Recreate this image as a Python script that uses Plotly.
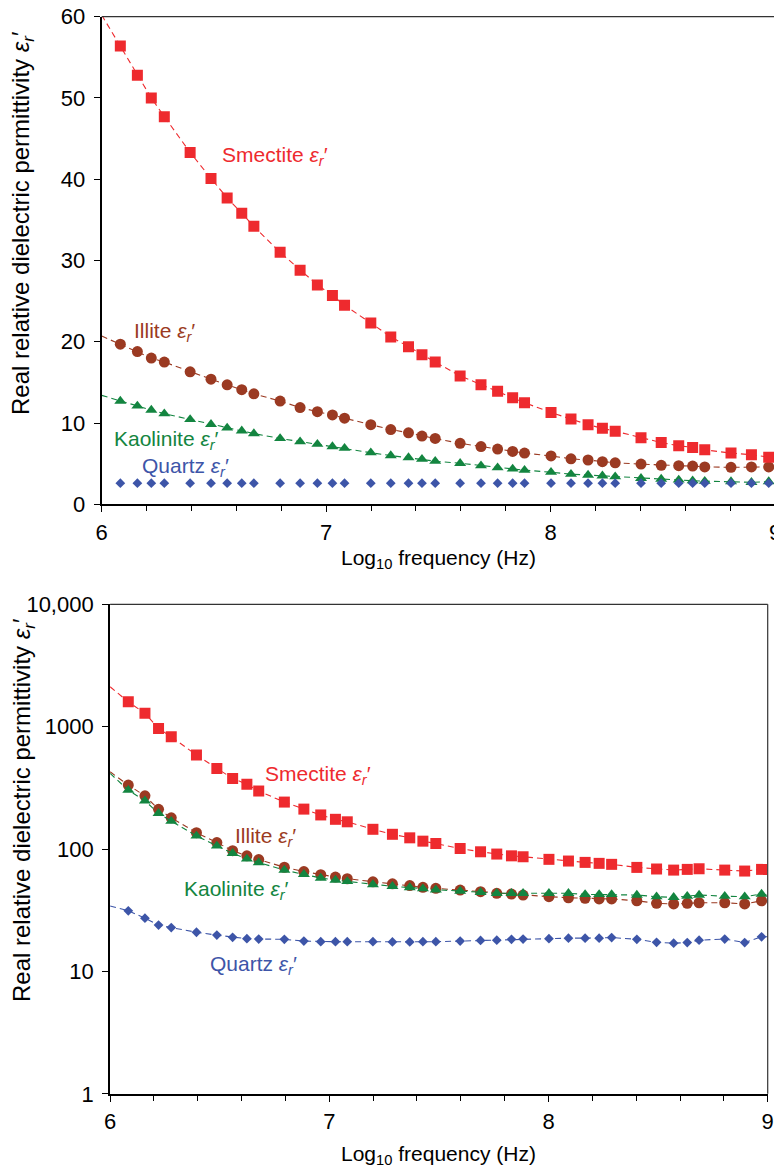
import math
import plotly.graph_objects as go

# ---------------- data ----------------
log_freq = [6.083, 6.159, 6.221, 6.279, 6.394, 6.487, 6.559, 6.624, 6.678, 6.795,
            6.884, 6.961, 7.028, 7.082, 7.199, 7.288, 7.367, 7.427, 7.486, 7.597,
            7.690, 7.764, 7.831, 7.884, 8.002, 8.091, 8.167, 8.231, 8.288, 8.403,
            8.493, 8.571, 8.633, 8.687, 8.804, 8.895, 8.972]

# top panel (linear)
smectite_lin = [56.4, 52.8, 50.0, 47.7, 43.3, 40.1, 37.7, 35.8, 34.2, 31.0,
                28.8, 27.0, 25.7, 24.5, 22.3, 20.6, 19.4, 18.4, 17.5, 15.8,
                14.7, 13.9, 13.1, 12.5, 11.3, 10.5, 9.8, 9.35, 9.0, 8.2,
                7.6, 7.2, 7.0, 6.7, 6.3, 6.1, 5.8]
illite_lin = [19.7, 18.8, 18.0, 17.5, 16.3, 15.4, 14.7, 14.1, 13.6, 12.7,
              11.9, 11.4, 11.0, 10.6, 9.8, 9.2, 8.8, 8.4, 8.1, 7.5,
              7.1, 6.8, 6.5, 6.3, 5.95, 5.6, 5.45, 5.25, 5.1, 4.95,
              4.8, 4.75, 4.7, 4.6, 4.55, 4.6, 4.6]
kaolinite_lin = [12.7, 12.1, 11.6, 11.15, 10.45, 9.85, 9.4, 9.05, 8.7, 8.1,
                 7.7, 7.4, 7.1, 6.9, 6.35, 6.0, 5.75, 5.55, 5.3, 5.05,
                 4.75, 4.5, 4.35, 4.2, 3.95, 3.7, 3.6, 3.5, 3.4, 3.2,
                 3.1, 3.0, 2.9, 2.85, 2.8, 2.7, 2.8]
quartz_lin = [2.6, 2.6, 2.6, 2.6, 2.6, 2.6, 2.6, 2.6, 2.6, 2.6,
              2.6, 2.6, 2.6, 2.6, 2.6, 2.6, 2.6, 2.6, 2.6, 2.6,
              2.6, 2.6, 2.6, 2.6, 2.6, 2.6, 2.6, 2.6, 2.6, 2.6,
              2.6, 2.6, 2.6, 2.6, 2.6, 2.6, 2.6]
# dashed trend-line values at the axis ends (log f = 6 and 9)
trend_ends_x = [6.0, 9.0]
smectite_lin_ends = [60.2, 5.5]
illite_lin_ends = [20.7, 4.6]
kaolinite_lin_ends = [13.4, 2.7]

# bottom panel (log)
smectite_log = [1597, 1285, 968, 827, 586, 456, 378, 338, 298, 242,
                212, 190, 175, 167, 145, 132, 123.5, 116, 111, 101,
                95, 91, 88, 86.5, 82.4, 79.8, 77.8, 76.4, 75, 70.8,
                68.7, 67.3, 68.2, 69, 67.3, 66.1, 68.2]
illite_log = [333, 272, 211, 180, 136, 113, 97, 88, 82, 71,
              65.5, 61.7, 59, 57.2, 54, 52, 50.3, 48.7, 47.8, 46.2,
              44.8, 43.5, 42.9, 42.1, 40.8, 40.0, 39.6, 39.1, 39.1, 37.8,
              36.0, 35.6, 36.0, 36.4, 36.4, 35.6, 37.8]
kaolinite_log = [303, 248, 196, 169, 128, 106, 92.3, 83, 77.5, 67.3,
                 62.1, 58, 55.8, 54.4, 51.3, 49.6, 48.5, 47.4, 46.5, 45.4,
                 44.3, 43.5, 43.5, 43.5, 43.5, 43.5, 42.6, 42.6, 42.6, 42.1,
                 40.8, 40.3, 41.2, 42.1, 41.2, 40.8, 42.9]
quartz_log = [31.3, 27.2, 23.9, 22.8, 20.9, 19.8, 19.0, 18.5, 18.4, 18.3,
              17.7, 17.5, 17.5, 17.5, 17.5, 17.4, 17.4, 17.5, 17.5, 17.7,
              17.9, 18.0, 18.3, 18.4, 18.5, 18.7, 18.7, 18.7, 18.9, 18.3,
              17.3, 17.0, 17.2, 18.0, 18.4, 17.2, 19.2]
smectite_log_ends = [2118, 66.5]
illite_log_ends = [428, 36.9]
kaolinite_log_ends = [415, 42]
quartz_log_ends = [34.2, 19.2]

x_ticks = [6, 7, 8, 9]
y_ticks_top = [0, 10, 20, 30, 40, 50, 60]
y_ticks_bot = [1, 10, 100, 1000, 10000]
y_ticktext_bot = ["1", "10", "100", "1000", "10,000"]

# ---------------- style ----------------
RED = "#EE2A2E"
BROWN = "#9B3A22"
GREEN = "#138540"
BLUE = "#3D55A8"
FONT = "Liberation Sans, Arial, sans-serif"
FS_TICK = 22
FS_LABEL = 21
FS_XTITLE = 21
FS_YTITLE = 24

fig = go.Figure()


def add_series(xa, ya, vals, ends, color, symbol, size):
    if ends is not None:
        fig.add_trace(go.Scatter(
            x=[trend_ends_x[0]] + log_freq + [trend_ends_x[1]],
            y=[ends[0]] + vals + [ends[1]],
            mode="lines", line=dict(color=color, width=1.1, dash="6px,4px"),
            xaxis=xa, yaxis=ya, showlegend=False, hoverinfo="skip"))
    fig.add_trace(go.Scatter(
        x=log_freq, y=vals, mode="markers",
        marker=dict(color=color, symbol=symbol, size=size, line=dict(width=0)),
        xaxis=xa, yaxis=ya, showlegend=False))


# top panel
add_series("x", "y", kaolinite_lin, kaolinite_lin_ends, GREEN, "triangle-up", 10.5)
add_series("x", "y", illite_lin, illite_lin_ends, BROWN, "circle", 11)
add_series("x", "y", smectite_lin, smectite_lin_ends, RED, "square", 11)
add_series("x", "y", quartz_lin, None, BLUE, "diamond", 7.5)

# bottom panel
add_series("x2", "y2", quartz_log, quartz_log_ends, BLUE, "diamond", 7.5)
add_series("x2", "y2", illite_log, illite_log_ends, BROWN, "circle", 11)
add_series("x2", "y2", kaolinite_log, kaolinite_log_ends, GREEN, "triangle-up", 10.5)
add_series("x2", "y2", smectite_log, smectite_log_ends, RED, "square", 11)

# page body has an 8px margin: figure is placed at (8, 8) in the window
OFF = 8
W, H = 782 - OFF, 1169 - OFF


def px_x(p):
    return (p - OFF) / W


def px_y(p):
    return 1 - (p - OFF) / H


xaxis_common = dict(
    range=[6, 9], tickvals=x_ticks, ticks="outside", ticklen=6, tickwidth=1.3,
    tickcolor="black", showline=True, linecolor="black", linewidth=2,
    showgrid=False, zeroline=False, tickfont=dict(size=FS_TICK, color="black"),
    minor=dict(tick0=6, dtick=0.2, ticks="outside", ticklen=5, tickwidth=1.1,
               tickcolor="black", showgrid=False),
    automargin=False, ticklabelstandoff=1, ticklabeloverflow="allow",
)
yaxis_common = dict(
    ticks="outside", ticklen=6, tickwidth=1.3, tickcolor="black",
    showline=True, linecolor="black", linewidth=2, showgrid=False,
    zeroline=False, tickfont=dict(size=FS_TICK, color="black"), automargin=False,
    ticklabelstandoff=4, ticklabeloverflow="allow",
)

fig.update_layout(
    width=W, height=H,
    margin=dict(l=0, r=0, t=0, b=0),
    paper_bgcolor="white", plot_bgcolor="white",
    font=dict(family=FONT, size=FS_TICK, color="black"),
    xaxis=dict(domain=[px_x(101.7), px_x(775)], anchor="y", **xaxis_common),
    yaxis=dict(domain=[px_y(504.3), px_y(16.7)], anchor="x", range=[0, 60],
               tickvals=y_ticks_top, **yaxis_common),
    xaxis2=dict(domain=[px_x(110.1), px_x(767.7)], anchor="y2", **xaxis_common),
    yaxis2=dict(domain=[px_y(1093.8), px_y(604.3)], anchor="x2", type="log",
                range=[0, 4], tickvals=y_ticks_bot, ticktext=y_ticktext_bot,
                **yaxis_common),
)

# frame top/right lines
for xr, yr in (("x domain", "y domain"), ("x2 domain", "y2 domain")):
    fig.add_shape(type="line", xref=xr, yref=yr, x0=0, x1=1, y0=1, y1=1,
                  line=dict(color="#333333", width=1.2))
    fig.add_shape(type="line", xref=xr, yref=yr, x0=1, x1=1, y0=0, y1=1,
                  line=dict(color="#333333", width=1.2))

eps = "<i>ε<sub>r</sub></i>′"

# series labels: top
labels_top = [("Smectite ", 6.528, 42.9, RED), ("Illite ", 6.134, 21.2, BROWN),
              ("Kaolinite ", 6.045, 7.9, GREEN), ("Quartz ", 6.171, 4.6, BLUE)]
for name, lx, ly, c in labels_top:
    fig.add_annotation(x=lx, y=ly, xref="x", yref="y", text=name + eps,
                       showarrow=False, xanchor="left", yanchor="middle",
                       font=dict(size=FS_LABEL, color=c, family=FONT))

labels_bot = [("Smectite ", 6.699, 402, RED), ("Illite ", 6.562, 126, BROWN),
              ("Kaolinite ", 6.327, 46.2, GREEN), ("Quartz ", 6.448, 11.3, BLUE)]
for name, lx, ly, c in labels_bot:
    fig.add_annotation(x=lx, y=math.log10(ly), xref="x2", yref="y2",
                       text=name + eps, showarrow=False, xanchor="left",
                       yanchor="middle",
                       font=dict(size=FS_LABEL, color=c, family=FONT))

# axis titles
ytitle = "Real relative dielectric permittivity <i>ε<sub>r</sub></i>′"
xtitle = "Log<sub>10</sub> frequency (Hz)"
for yc in (223, 810):
    fig.add_annotation(x=px_x(23), y=px_y(yc), xref="paper", yref="paper",
                       text=ytitle, textangle=-90, showarrow=False,
                       xanchor="center", yanchor="middle",
                       font=dict(size=FS_YTITLE, color="black", family=FONT))
for xc, yc in ((439, 559), (439, 1155)):
    fig.add_annotation(x=px_x(xc), y=px_y(yc), xref="paper", yref="paper",
                       text=xtitle, showarrow=False, xanchor="center",
                       yanchor="middle",
                       font=dict(size=FS_XTITLE, color="black", family=FONT))

fig.write_html("out.html")
